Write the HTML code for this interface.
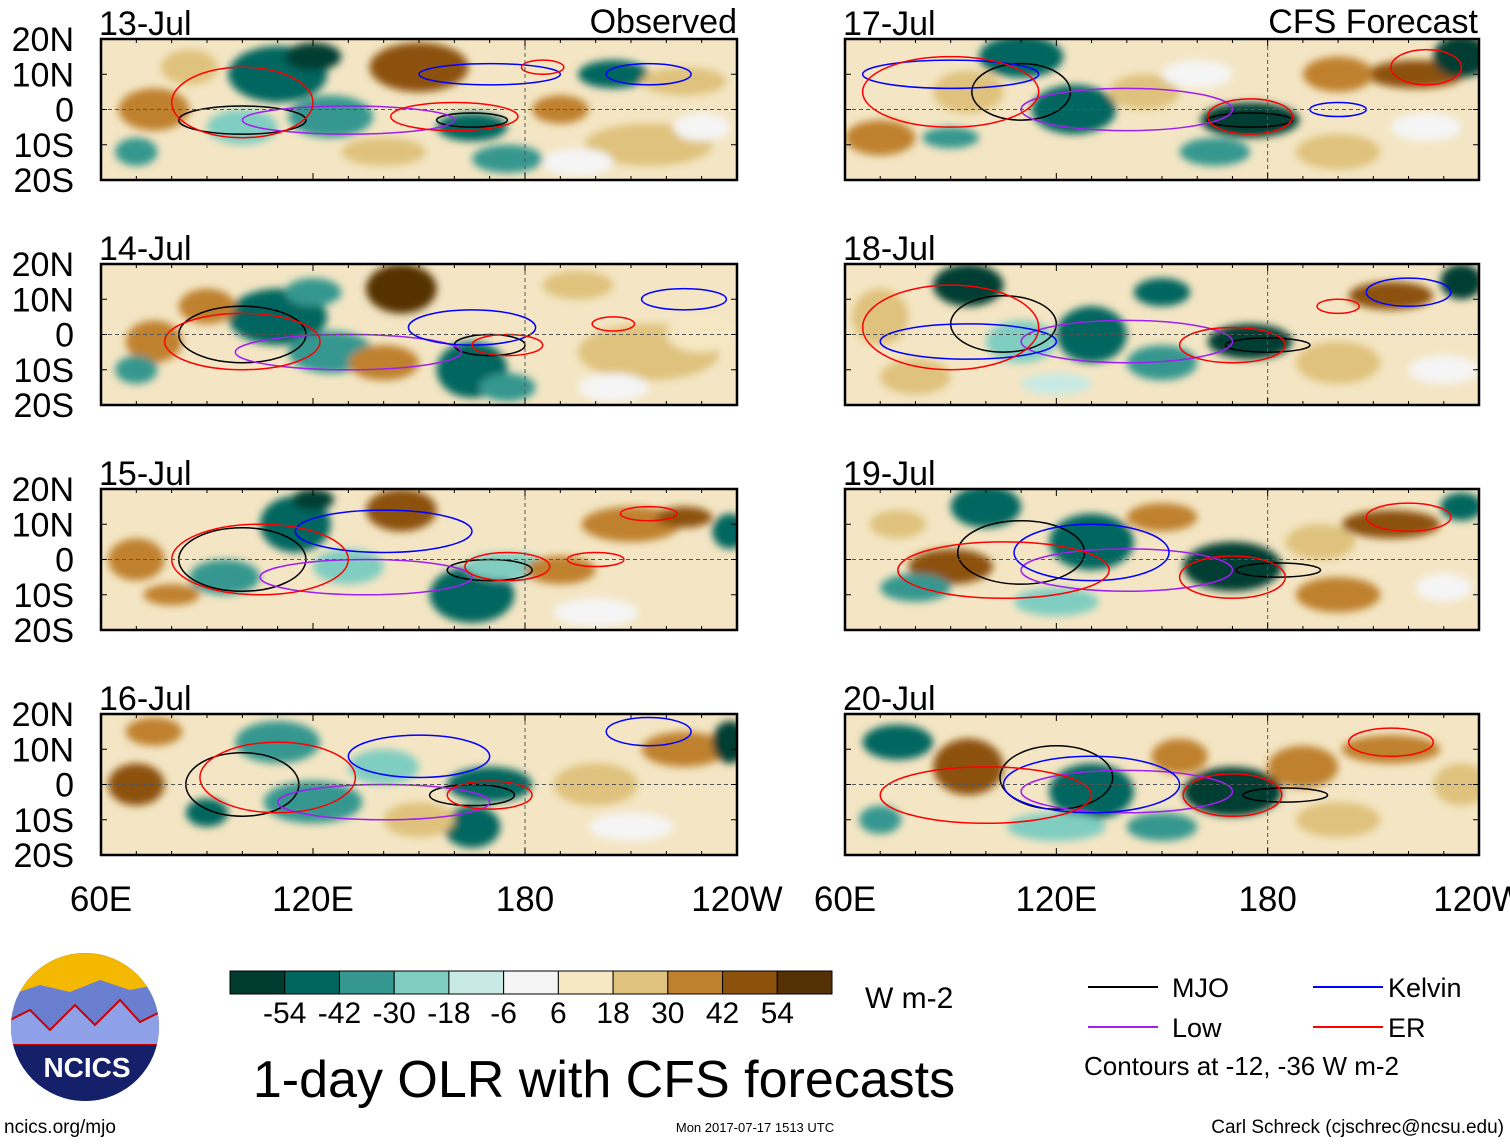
<!DOCTYPE html>
<html><head><meta charset="utf-8"><style>
body{margin:0;background:#fff;width:1510px;height:1142px;overflow:hidden;font-family:"Liberation Sans",Arial,sans-serif}
svg text{font-family:"Liberation Sans",Arial,sans-serif}
</style></head><body>
<svg id="chart" width="1510" height="1142" viewBox="0 0 1510 1142" xmlns="http://www.w3.org/2000/svg">
<defs>
<filter id="blur" x="-20%" y="-50%" width="140%" height="200%"><feGaussianBlur stdDeviation="4"/></filter>
</defs>
<g id="panels"></g>
<g id="bottom"></g>
</svg>
<script>
const palette=["#003c30","#01665e","#35978f","#80cdc1","#c7eae5","#f5f5f5","#f6e8c3","#dfc27d","#bf812d","#8c510a","#543005"];
const cbLabels=["-54","-42","-30","-18","-6","6","18","30","42","54"];
const dates=["13-Jul","14-Jul","15-Jul","16-Jul","17-Jul","18-Jul","19-Jul","20-Jul"];
const latTicks=[20,10,0,-10,-20];
const latLabels=["20N","10N","0","10S","20S"];
const lonTicks=[60,120,180,240];
const lonLabels=["60E","120E","180","120W"];
// blobs: [lon, lat, rx(deg), ry(deg), colorIndex]
const blobs0=[[150,12,14,7,9],[75,0,10,6,8],[110,10,14,8,1],[125,-2,12,6,2],[100,-5,10,5,3],[205,10,10,4,1],[215,-10,18,6,7],[175,-14,10,4,2],[85,12,8,5,7],[165,-5,10,4,1],[225,8,12,4,7],[190,0,8,4,8],[140,-12,12,4,7],[70,-12,6,4,2],[195,-15,10,4,5],[230,-5,8,4,5],[120,15,8,4,0]];
const blobs1=[[145,13,10,7,10],[75,-2,8,6,8],[110,5,14,8,1],[125,-5,12,6,2],[165,-10,10,8,1],[195,14,10,4,7],[215,-5,20,8,7],[90,8,8,5,8],[175,-15,8,4,2],[230,0,10,5,6],[140,-8,10,5,8],[70,-10,6,4,2],[205,-15,10,4,5],[120,12,8,4,2]];
const blobs2=[[145,14,10,6,9],[70,0,8,6,8],[115,10,10,8,1],[95,-5,10,5,2],[165,-10,12,8,1],[210,10,14,5,8],[225,12,8,3,9],[175,-2,12,4,3],[190,-3,10,4,8],[238,8,5,5,1],[130,-2,10,5,3],[80,-10,8,3,8],[200,-15,12,4,5],[120,17,6,3,0]];
const blobs3=[[225,10,12,5,8],[238,12,5,6,0],[70,0,8,6,9],[110,12,12,6,2],[120,-5,14,6,2],[170,0,12,5,1],[165,-12,8,6,1],[90,-8,6,4,1],[150,-10,10,5,7],[200,0,12,6,7],[140,5,10,5,3],[75,15,8,4,8],[210,-12,12,4,5]];
const blobs4=[[110,15,12,6,1],[125,0,12,7,1],[175,-3,14,5,0],[165,-12,10,4,2],[222,10,14,4,9],[235,15,8,6,0],[200,10,10,5,8],[70,-8,10,5,8],[90,-8,8,3,2],[95,5,10,6,7],[145,5,10,5,7],[200,-12,12,5,7],[160,10,10,4,5],[225,-5,10,4,5]];
const blobs5=[[95,14,10,6,0],[130,0,10,8,1],[175,-2,12,5,0],[150,-8,10,5,2],[110,-2,10,6,3],[215,11,12,4,9],[235,15,6,5,0],[70,5,8,8,7],[200,-8,12,6,7],[150,12,8,4,1],[80,-12,10,5,7],[120,-14,10,3,4],[230,-10,10,4,5]];
const blobs6=[[90,-2,12,5,9],[130,5,12,8,1],[170,-2,14,7,0],[100,15,10,6,1],[215,10,14,4,9],[235,15,6,4,1],[150,12,10,4,8],[80,-8,10,4,2],[195,5,10,5,7],[200,-10,12,5,8],[120,-12,12,4,3],[75,10,8,4,7],[230,-8,8,4,5]];
const blobs7=[[95,5,10,8,9],[130,-2,12,8,1],[170,-2,14,7,0],[75,12,10,5,1],[215,10,14,4,8],[155,8,8,5,8],[120,-12,14,4,3],[200,-10,12,5,7],[190,5,10,6,8],[235,0,8,6,7],[70,-10,6,4,2],[150,-12,10,4,2]];
const allBlobs=[blobs0,blobs1,blobs2,blobs3,blobs4,blobs5,blobs6,blobs7];
// contours: [lon, lat, rx, ry, type] type: 0 MJO,1 low,2 kelvin,3 ER
const cont0=[[100,-3,18,4,0],[165,-3,10,2,0],[130,-3,30,4,1],[170,10,20,3,2],[215,10,12,3,2],[100,2,20,10,3],[160,-2,18,4,3],[185,12,6,2,3]];
const cont1=[[100,0,18,8,0],[170,-3,10,3,0],[130,-5,32,5,1],[165,2,18,5,2],[225,10,12,3,2],[100,-2,22,8,3],[175,-3,10,3,3],[205,3,6,2,3]];
const cont2=[[100,0,18,9,0],[170,-3,12,3,0],[135,-5,30,5,1],[140,8,25,6,2],[105,0,25,10,3],[175,-2,12,4,3],[215,13,8,2,3],[200,0,8,2,3]];
const cont3=[[100,0,16,9,0],[165,-3,12,3,0],[140,-5,30,5,1],[150,8,20,6,2],[110,2,22,10,3],[170,-3,12,4,3],[215,15,12,4,2]];
const cont4=[[110,5,14,8,0],[175,-3,12,2,0],[140,0,30,6,1],[90,10,25,4,2],[90,5,25,10,3],[175,-2,12,5,3],[225,12,10,5,3],[200,0,8,2,2]];
const cont5=[[105,3,15,8,0],[180,-3,12,2,0],[140,-2,30,6,1],[95,-2,25,5,2],[90,2,25,12,3],[170,-3,15,5,3],[220,12,12,4,2],[200,8,6,2,3]];
const cont6=[[110,2,18,9,0],[183,-3,12,2,0],[140,-3,30,6,1],[130,2,22,8,2],[105,-3,30,8,3],[170,-5,15,6,3],[220,12,12,4,3]];
const cont7=[[120,2,16,9,0],[185,-3,12,2,0],[140,-2,30,6,1],[130,0,25,8,2],[100,-3,30,8,3],[170,-3,14,6,3],[215,12,12,4,3]];
const allCont=[cont0,cont1,cont2,cont3,cont4,cont5,cont6,cont7];
const contColors=["#000","#a020f0","#0000ff","#ff0000"];

const NS="http://www.w3.org/2000/svg";
function el(tag,attrs,parent){const e=document.createElementNS(NS,tag);for(const k in attrs)e.setAttribute(k,attrs[k]);parent.appendChild(e);return e;}
const tops=[39,264,489,714];
const panelsG=document.getElementById('panels');
for(let p=0;p<8;p++){
  const col=p<4?0:1,row=p%4;
  const x0=col?845:101,w=col?634:636,y0=tops[row],h=141;
  const X=lon=>x0+(lon-60)/180*w;
  const Y=lat=>y0+(20-lat)/40*h;
  const g=el('g',{},panelsG);
  
  
  const cid='clip'+p;
  const cp=el('clipPath',{id:cid},g);el('rect',{x:x0,y:y0,width:w,height:h},cp);
  const inner=el('g',{'clip-path':'url(#'+cid+')'},g);
  el('rect',{x:x0,y:y0,width:w,height:h,fill:"#f4e6c4"},inner);
  const bg=el('g',{filter:'url(#blur)'},inner);
  allBlobs[p].forEach(b=>{
    const e=el('ellipse',{cx:X(b[0]),cy:Y(b[1]),rx:b[2]/180*w,ry:b[3]/40*h,fill:palette[b[4]]},bg);
    
    
  });
  allCont[p].forEach(c=>{
    const e=el('ellipse',{cx:X(c[0]),cy:Y(c[1]),rx:c[2]/180*w,ry:c[3]/40*h,fill:"none",stroke:contColors[c[4]],'stroke-width':1.5},inner);
    
    
  });
  el('line',{x1:x0,x2:x0+w,y1:Y(0),y2:Y(0),stroke:"#555",'stroke-dasharray':"4,3",'stroke-width':1},inner);
  el('line',{x1:X(180),x2:X(180),y1:y0,y2:y0+h,stroke:"#555",'stroke-dasharray':"4,3",'stroke-width':1},inner);
  el('rect',{x:x0,y:y0,width:w,height:h,fill:"none",stroke:"#000",'stroke-width':2.5},g);
  for(let lon=60;lon<=240;lon+=10){
    const len=(lon%60==0)?7:4;
    el('line',{x1:X(lon),x2:X(lon),y1:y0,y2:y0+len,stroke:"#000"},g);
    el('line',{x1:X(lon),x2:X(lon),y1:y0+h,y2:y0+h-len,stroke:"#000"},g);
  }
  latTicks.forEach((lt,i)=>{
    el('line',{x1:x0,x2:x0+6,y1:Y(lt),y2:Y(lt),stroke:"#000"},g);
    el('line',{x1:x0+w,x2:x0+w-6,y1:Y(lt),y2:Y(lt),stroke:"#000"},g);
    if(col===0){
      const t=el('text',{x:74,y:Y(lt)+12,'font-size':34,'text-anchor':'end'},g);
      t.textContent=latLabels[i];
      
      
    }
  });
  const dt=el('text',{x:x0-2,y:y0-4,'font-size':34},g);
  dt.textContent=dates[p];
  
  
  if(row===3){
    lonTicks.forEach((ln,i)=>{
      const t=el('text',{x:X(ln),y:911,'font-size':35,'text-anchor':'middle'},g);
      t.textContent=lonLabels[i];
      
      
    });
  }
}
const B=document.getElementById('bottom');
let t=el('text',{x:737,y:33,'font-size':34,'text-anchor':'end'},B);t.textContent="Observed";


t=el('text',{x:1478,y:33,'font-size':34,'text-anchor':'end'},B);t.textContent="CFS Forecast";


// colorbar
const cbx=230,cbw=602/11;
palette.forEach((c,i)=>{
  const r=el('rect',{x:cbx+i*cbw,y:971,width:cbw,height:23,fill:c,stroke:"#000",'stroke-width':1},B);
  
  
});
cbLabels.forEach((l,i)=>{
  const tt=el('text',{x:cbx+(i+1)*cbw,y:1023,'font-size':30,'text-anchor':'middle'},B);
  tt.textContent=l;
  
  
});
t=el('text',{x:865,y:1008,'font-size':30},B);t.textContent="W m-2";


t=el('text',{x:604,y:1097,'font-size':52,'text-anchor':'middle'},B);t.textContent="1-day OLR with CFS forecasts";


// legend
const leg=[["MJO",1088,1172,987,"#000"],["Kelvin",1313,1388,987,"#0000ff"],["Low",1088,1172,1027,"#a020f0"],["ER",1313,1388,1027,"#ff0000"]];
leg.forEach(l=>{
  el('line',{x1:l[1],x2:l[1]+70,y1:l[3],y2:l[3],stroke:l[4],'stroke-width':2},B);
  const tt=el('text',{x:l[2],y:l[3]+10,'font-size':27},B);tt.textContent=l[0];
  
  
});
t=el('text',{x:1084,y:1075,'font-size':26},B);t.textContent="Contours at -12, -36 W m-2";


t=el('text',{x:4,y:1133,'font-size':19},B);t.textContent="ncics.org/mjo";


t=el('text',{x:755,y:1132,'font-size':13,'text-anchor':'middle'},B);t.textContent="Mon 2017-07-17 1513 UTC";


t=el('text',{x:1504,y:1133,'font-size':19,'text-anchor':'end'},B);t.textContent="Carl Schreck (cjschrec@ncsu.edu)";


// logo
const lg=el('g',{},B);


const lc=el('clipPath',{id:'logoclip'},lg);el('circle',{cx:85,cy:1027,r:74},lc);
const li=el('g',{'clip-path':'url(#logoclip)'},lg);
el('rect',{x:10,y:952,width:150,height:150,fill:"#1a2a6c"},li);
el('rect',{x:10,y:952,width:150,height:45,fill:"#f5b800"},li);
el('path',{d:"M10 995 L40 985 L70 992 L100 980 L130 990 L160 984 L160 1030 L10 1030Z",fill:"#6a7fd0"},li);
el('path',{d:"M10 1020 L30 1010 L50 1030 L75 1005 L95 1025 L120 1000 L140 1022 L160 1012 L160 1045 L10 1045Z",fill:"#8ea0e8",stroke:"#c00",'stroke-width':2},li);
el('rect',{x:10,y:1045,width:150,height:60,fill:"#14206a"},li);
t=el('text',{x:87,y:1077,'font-size':28,'font-weight':'bold',fill:"#fff",'text-anchor':'middle'},lg);t.textContent="NCICS";


</script>
</body></html>
